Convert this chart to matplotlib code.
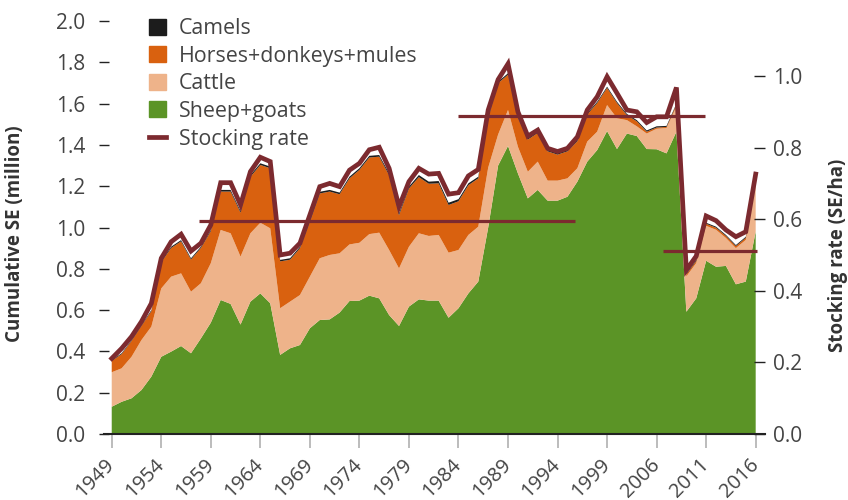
import matplotlib
matplotlib.use("Agg")
import matplotlib.pyplot as plt
import matplotlib.transforms as mtransforms
from matplotlib.patches import Patch
from matplotlib.lines import Line2D
import numpy as np

plt.rcParams['font.family'] = ['Open Sans', 'DejaVu Sans']

# years on the x axis (categorical, a few years missing after 1999)
years = list(range(1949, 2000)) + [2001, 2002, 2004, 2005] + list(range(2006, 2017))

# livestock in standard equivalents (million)
sheep_goats = [0.132, 0.156, 0.173, 0.213, 0.278, 0.374, 0.399, 0.426, 0.391, 0.463,
               0.539, 0.649, 0.630, 0.530, 0.641, 0.681, 0.633, 0.383, 0.415, 0.431,
               0.512, 0.552, 0.555, 0.588, 0.644, 0.646, 0.670, 0.657, 0.576, 0.523,
               0.617, 0.652, 0.646, 0.646, 0.563, 0.609, 0.681, 0.738, 1.000, 1.300,
               1.395, 1.262, 1.141, 1.182, 1.130, 1.130, 1.149, 1.222, 1.319, 1.375,
               1.467, 1.380, 1.455, 1.443, 1.380, 1.379, 1.359, 1.464, 0.592, 0.657,
               0.839, 0.810, 0.814, 0.725, 0.738, 0.980]
cattle = [0.167, 0.162, 0.201, 0.242, 0.242, 0.331, 0.363, 0.352, 0.298, 0.267,
          0.288, 0.339, 0.342, 0.329, 0.331, 0.342, 0.363, 0.226, 0.226, 0.242,
          0.250, 0.299, 0.312, 0.287, 0.274, 0.280, 0.298, 0.318, 0.315, 0.279,
          0.290, 0.320, 0.313, 0.318, 0.315, 0.282, 0.283, 0.266, 0.290, 0.150,
          0.174, 0.129, 0.129, 0.137, 0.097, 0.097, 0.089, 0.065, 0.097, 0.089,
          0.126, 0.149, 0.065, 0.047, 0.075, 0.099, 0.123, 0.121, 0.171, 0.171,
          0.169, 0.179, 0.135, 0.175, 0.202, 0.243]
horses = [0.055, 0.069, 0.077, 0.069, 0.075, 0.128, 0.139, 0.155, 0.156, 0.171,
          0.155, 0.186, 0.202, 0.213, 0.274, 0.280, 0.291, 0.227, 0.203, 0.227,
          0.266, 0.314, 0.307, 0.286, 0.320, 0.353, 0.371, 0.368, 0.362, 0.258,
          0.282, 0.272, 0.253, 0.250, 0.231, 0.236, 0.241, 0.234, 0.239, 0.249,
          0.171, 0.140, 0.156, 0.139, 0.142, 0.126, 0.131, 0.131, 0.131, 0.139,
          0.083, 0.074, 0.024, 0.024, 0.009, 0.006, 0.005, 0.010, 0.010, 0.010,
          0.010, 0.010, 0.010, 0.010, 0.010, 0.010]
camels = [0.004, 0.004, 0.004, 0.004, 0.005, 0.006, 0.006, 0.006, 0.006, 0.006,
          0.006, 0.008, 0.008, 0.008, 0.008, 0.008, 0.008, 0.007, 0.007, 0.007,
          0.008, 0.008, 0.008, 0.008, 0.008, 0.008, 0.008, 0.008, 0.009, 0.009,
          0.009, 0.010, 0.010, 0.011, 0.011, 0.010, 0.009, 0.008, 0.008, 0.007,
          0.007, 0.006, 0.006, 0.006, 0.006, 0.006, 0.006, 0.006, 0.006, 0.006,
          0.006, 0.006, 0.006, 0.006, 0.006, 0.006, 0.005, 0.005, 0.005, 0.005,
          0.005, 0.005, 0.005, 0.005, 0.005, 0.005]

# stocking rate (SE/ha), right axis
stocking = [0.211, 0.239, 0.272, 0.314, 0.365, 0.491, 0.537, 0.558, 0.511, 0.533,
            0.584, 0.702, 0.702, 0.640, 0.733, 0.773, 0.761, 0.500, 0.505, 0.533,
            0.612, 0.691, 0.700, 0.691, 0.737, 0.756, 0.794, 0.801, 0.742, 0.635,
            0.705, 0.742, 0.726, 0.728, 0.670, 0.674, 0.721, 0.739, 0.905, 0.990,
            1.034, 0.900, 0.832, 0.849, 0.798, 0.789, 0.798, 0.830, 0.905, 0.942,
            0.998, 0.952, 0.905, 0.900, 0.870, 0.886, 0.886, 0.968, 0.458, 0.497,
            0.609, 0.596, 0.570, 0.551, 0.565, 0.726]

# period means of stocking rate (start / end position on the year index)
mean_start = [8.8, 35.0, 55.6]
mean_end = [46.8, 59.9, 65.1]
mean_value = [0.595, 0.888, 0.512]

c_green = '#5b9426'
c_tan = '#eeb38a'
c_orange = '#d9610f'
c_camel = '#1c1c1c'
c_red = '#7c2a2f'
c_text = '#444444'

fig = plt.figure(figsize=(8.48, 5.0), dpi=100)
ax = fig.add_axes([104 / 848, 1 - 434 / 500, (765 - 104) / 848, (434 - 21) / 500])
x = np.arange(len(years))

ax.stackplot(x, sheep_goats, cattle, horses, camels,
             colors=[c_green, c_tan, c_orange, c_camel], linewidth=0)
ax.set_xlim(-0.78, 65.94)
ax.set_ylim(0, 2.0)
ax.set_yticks(np.arange(0, 2.01, 0.2))
ax.set_yticklabels([f"{v:.1f}" for v in np.arange(0, 2.01, 0.2)])

tick_idx = list(range(0, len(years), 5))
ax.set_xticks(tick_idx)
ax.set_xticklabels([str(years[i]) for i in tick_idx], rotation=45, ha='right',
                   va='center', rotation_mode='anchor')
offset = mtransforms.ScaledTranslation(11 / 100, 0, fig.dpi_scale_trans)
for lab in ax.get_xticklabels():
    lab.set_transform(lab.get_transform() + offset)

for s in ['left', 'right', 'top']:
    ax.spines[s].set_visible(False)
ax.spines['bottom'].set_color('#222222')
ax.spines['bottom'].set_linewidth(1.5)
ax.tick_params(axis='x', colors='#aaaaaa', length=10, width=1.1, pad=10,
               labelcolor=c_text, labelsize=14.5)
ax.tick_params(axis='y', color='#222222', direction='inout', length=7, width=1,
               pad=10, labelcolor=c_text, labelsize=15)

ax2 = ax.twinx()
ax2.plot(x, stocking, color=c_red, linewidth=3.4, solid_joinstyle='miter')
ax2.hlines(mean_value, mean_start, mean_end, color=c_red, linewidth=2.3)
ax2.set_ylim(0, 413 / 358)
ax2.set_yticks(np.arange(0, 1.01, 0.2))
ax2.set_yticklabels([f"{v:.1f}" for v in np.arange(0, 1.01, 0.2)])
for s in ['left', 'right', 'top', 'bottom']:
    ax2.spines[s].set_visible(False)
ax2.tick_params(axis='y', color='#222222', direction='in', length=8, width=1,
                pad=6, labelcolor=c_text, labelsize=15)

fig.text(15 / 848, 1 - 234 / 500, 'Cumulative SE (million)', rotation=90,
         ha='center', va='center', fontsize=13.5, fontweight='bold', color='#333333')
fig.text(838 / 848, 1 - 255 / 500, 'Stocking rate (SE/ha)', rotation=90,
         ha='center', va='center', fontsize=13.5, fontweight='bold', color='#333333')

handles = [Patch(color=c_camel), Patch(color=c_orange), Patch(color=c_tan),
           Patch(color=c_green), Line2D([], [], color=c_red, linewidth=3.4)]
labels = ['Camels', 'Horses+donkeys+mules', 'Cattle', 'Sheep+goats', 'Stocking rate']
leg = fig.legend(handles, labels, loc='upper left',
                 bbox_to_anchor=(149 / 848, 1 - 18 / 500), frameon=False,
                 fontsize=15.4, handlelength=0.78, handleheight=0.78,
                 handletextpad=0.62, labelspacing=0.31, borderpad=0, borderaxespad=0)
for t in leg.get_texts():
    t.set_color(c_text)

fig.savefig('out.png', dpi=100)
